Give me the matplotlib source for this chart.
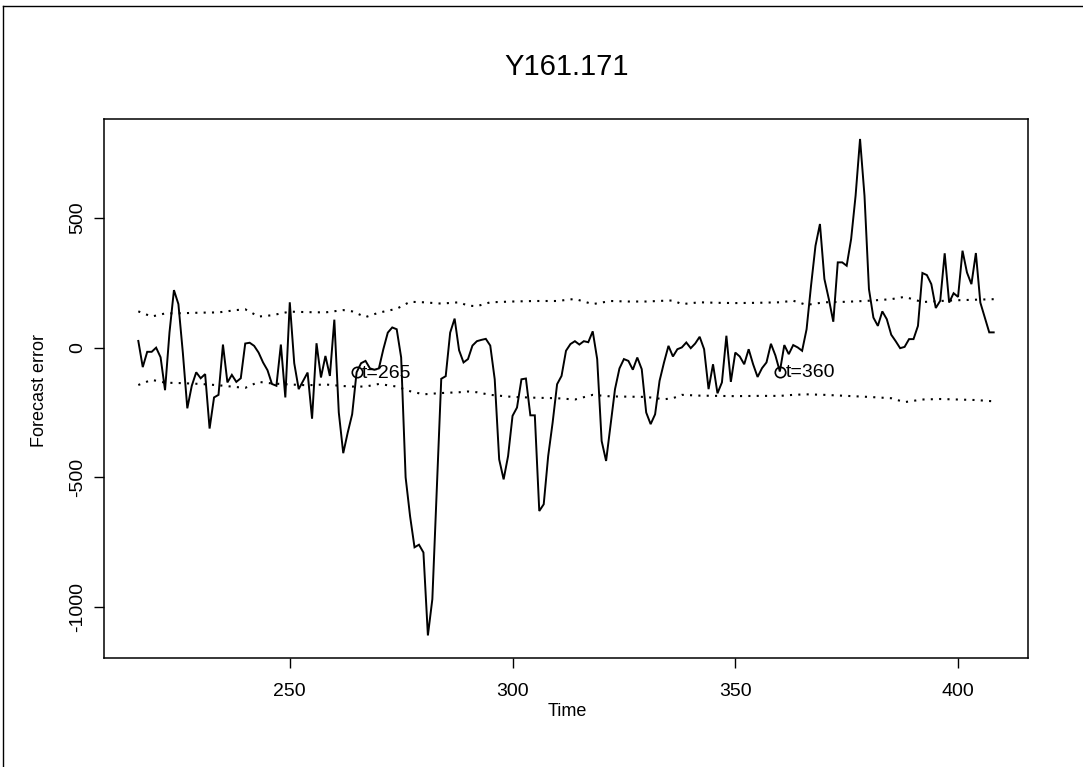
import matplotlib
matplotlib.use("Agg")
import matplotlib.pyplot as plt
from matplotlib.lines import Line2D
import numpy as np

plt.rcParams['font.family'] = ['Liberation Sans Narrow', 'Liberation Sans', 'DejaVu Sans']

# One-step forecast errors, t = 216 ... 408
t_start = 216
forecast_error = [
    26, -75, -16, -16, 0, -37, -164, 59, 222, 168,            # 216-225
    -20, -234, -147, -95, -118, -102, -312, -192, -182, 12,   # 226-235
    -134, -105, -132, -118, 16, 19, 7, -19, -57, -87,         # 236-245
    -140, -147, 12, -192, 175, -60, -160, -128, -96, -274,    # 246-255
    17, -115, -32, -109, 108, -250, -407, -328, -257, -95,    # 256-265
    -60, -51, -80, -85, -80, -6, 58, 78, 71, -38,             # 266-275
    -500, -650, -770, -760, -790, -1110, -970, -550, -120, -110,  # 276-285
    58, 112, -10, -57, -44, 8, 25, 30, 34, 8,                 # 286-295
    -122, -431, -508, -418, -263, -231, -122, -119, -261, -261,   # 296-305
    -630, -604, -418, -289, -141, -109, -12, 14, 25, 12,      # 306-315
    25, 21, 63, -44, -360, -437, -300, -160, -80, -44,        # 316-325
    -51, -85, -38, -83, -250, -295, -257, -128, -57, 7,       # 326-335
    -34, -6, 1, 20, -2, 16, 42, -6, -160, -64,                # 336-345
    -176, -134, 46, -132, -19, -34, -64, -6, -64, -113,       # 346-355
    -79, -57, 15, -30, -92, 10, -25, 10, 1, -12,              # 356-365
    71, 239, 393, 477, 265, 187, 100, 329, 329, 316,          # 366-375
    419, 586, 805, 586, 226, 116, 84, 140, 110, 50,           # 376-385
    25, -2, 3, 33, 33, 84, 288, 280, 245, 153,                # 386-395
    181, 364, 174, 210, 196, 374, 290, 245, 365, 174,         # 396-405
    117, 59, 59,                                              # 406-408
]
time = np.arange(t_start, t_start + len(forecast_error))

# Prediction limits
band_time = [216, 219, 222, 226, 230, 234, 238, 240, 243, 246, 250, 254, 258,
             262, 264, 267, 270, 274, 277, 280, 284, 288, 290, 292, 295, 300,
             305, 310, 314, 318, 322, 326, 330, 334, 336, 338, 342, 346, 350,
             355, 360, 363, 366, 370, 375, 380, 385, 388, 392, 396, 400, 404, 408]
upper_limit = [140, 120, 132, 133, 135, 136, 145, 148, 120, 125, 139, 137, 136,
               145, 140, 118, 135, 150, 177, 175, 170, 175, 162, 160, 175, 178,
               180, 180, 188, 168, 180, 178, 178, 181, 182, 168, 175, 173, 172,
               173, 175, 181, 165, 175, 177, 181, 187, 196, 176, 180, 183, 185, 187]
lower_limit = [-144, -124, -135, -137, -140, -145, -152, -155, -132, -138, -142, -145, -142,
               -148, -150, -150, -140, -150, -168, -180, -175, -172, -169, -172, -182, -190,
               -193, -195, -200, -182, -188, -189, -190, -199, -195, -182, -185, -186, -187,
               -186, -186, -182, -180, -182, -186, -190, -195, -210, -200, -198, -200, -202, -207]

marked_times = [265, 360]

x_ticks = [250, 300, 350, 400]
y_ticks = [-1000, -500, 0, 500]

W, H = 1083, 767
fig = plt.figure(figsize=(W / 100, H / 100), dpi=100)
fig.patch.set_facecolor('white')

ax_l, ax_r, ax_t, ax_b = 104, 1028, 119, 658
ax = fig.add_axes([ax_l / W, 1 - ax_b / H, (ax_r - ax_l) / W, (ax_b - ax_t) / H])

ax.plot(time, forecast_error, color='black', lw=1.4, solid_joinstyle='miter')
ax.plot(band_time, upper_limit, color='black', lw=1.5, ls=(0, (1, 3)))
ax.plot(band_time, lower_limit, color='black', lw=1.5, ls=(0, (1, 3)))

for tm in marked_times:
    v = forecast_error[tm - t_start]
    ax.plot([tm], [v], marker='o', mfc='none', mec='black', ms=7.5, mew=1.2, ls='none')
    ax.annotate(f"t={tm}", (tm, v), xytext=(4, -1), textcoords='offset points',
                ha='left', va='center', fontsize=14)

ax.set_xlim(208.3, 415.7)
ax.set_ylim(-1197, 882)
ax.set_xticks(x_ticks)
ax.set_xticklabels([str(v) for v in x_ticks])
ax.set_yticks(y_ticks)
ax.set_yticklabels([str(v) for v in y_ticks], rotation=90, va='center')
ax.tick_params(axis='both', direction='out', length=7, width=1.0, labelsize=14, color='black')
ax.tick_params(axis='x', pad=11)
ax.tick_params(axis='y', pad=6)
for s in ax.spines.values():
    s.set_linewidth(1.1)
    s.set_color('black')

fig.text(567 / W, 1 - 67 / H, "Y161.171", ha='center', va='center', fontsize=21)
fig.text(567 / W, 1 - 711 / H, "Time", ha='center', va='center', fontsize=13)
fig.text(40 / W, 1 - 391 / H, "Forecast error", ha='center', va='center',
         rotation=90, fontsize=13)

# outer frame
fig.add_artist(Line2D([3 / W, 3 / W], [0, 1 - 6 / H], color='black', lw=1.0,
                      transform=fig.transFigure))
fig.add_artist(Line2D([3 / W, 1], [1 - 6 / H, 1 - 6 / H], color='black', lw=1.0,
                      transform=fig.transFigure))

fig.savefig("out.png", dpi=100, facecolor='white')
